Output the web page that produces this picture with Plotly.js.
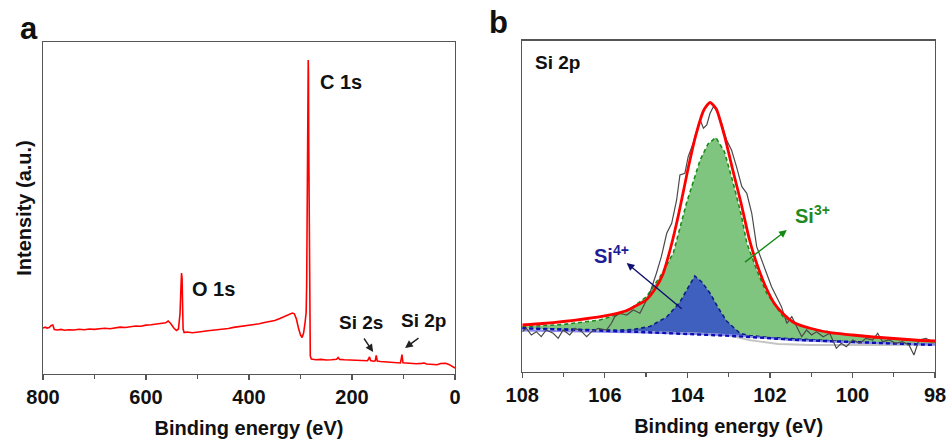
<!DOCTYPE html>
<html>
<head>
<meta charset="utf-8">
<script src="https://cdn.plot.ly/plotly-3.0.1.min.js"></script>
<style>
  html, body { margin: 0; padding: 0; background: #ffffff; }
  #chart { width: 947px; height: 441px; }
</style>
</head>
<body>
<div id="chart"></div>
<script>
// ---------------- Panel a: XPS survey ----------------
const surveyEnergy = [800, 796, 792, 788, 784, 781, 778, 772, 765, 758, 750, 740, 730, 720, 710, 700, 690, 680, 670, 660, 650, 640, 630, 620, 610, 600, 590, 580, 570, 562, 557, 552, 546, 541, 537, 534, 532, 531, 530, 529, 528, 526, 520, 510, 500, 490, 480, 470, 460, 450, 440, 430, 420, 410, 400, 390, 380, 370, 360, 350, 340, 330, 322, 316, 312, 308, 304, 300, 297, 294, 291, 289, 288, 287, 286, 285, 284.5, 284, 283, 282, 281, 279, 270, 260, 250, 240, 230, 227, 224, 215, 200, 190, 180, 170, 166, 164, 158, 155, 153, 151, 145, 135, 125, 115, 106, 104, 103, 101, 95, 85, 75, 65, 60, 55, 45, 35, 28, 23, 18, 12, 8, 4, 0];
const surveyIntensity = [46, 46.8, 45.9, 46.5, 48.5, 49, 44.5, 44, 44.6, 43.8, 44.3, 44, 44.8, 44.2, 45, 44.6, 45.3, 45.8, 45.2, 46.4, 46.9, 46.5, 47.6, 48, 47.7, 48.9, 49.3, 49.8, 50.6, 51.2, 53, 50.5, 46, 43.5, 45, 60, 88, 101, 96, 70, 45, 41.5, 42, 41.3, 42.2, 42.5, 43.2, 43.6, 44.3, 45.1, 45.5, 46.6, 47.2, 47.8, 48.4, 49.4, 50.2, 51.5, 52.7, 53.5, 55.5, 57.6, 59.2, 61, 60.2, 55, 46, 39, 36.5, 41, 52, 62, 90, 150, 250, 314, 300, 230, 120, 40, 18, 15, 14.2, 14.6, 14, 14.3, 14.8, 16.5, 14.6, 14.2, 14, 13.6, 13.8, 13.2, 17, 13.5, 12.8, 13.2, 18.5, 13, 12.5, 12.2, 11.8, 11.5, 11, 16, 19.5, 11.2, 10.8, 10.5, 10.2, 10.6, 11, 10, 9.6, 9.2, 10.5, 11, 10.8, 9.6, 8.5, 7.5, 6];

const surveyTicks = [800, 600, 400, 200, 0];
const surveyMinorTicks = [700, 500, 300, 100];

// ---------------- Panel b: Si 2p high resolution ----------------
const rawEnergy = [108.0, 107.9, 107.78, 107.66, 107.54, 107.42, 107.25, 107.13, 107.01, 106.85, 106.72, 106.56, 106.44, 106.32, 106.16, 105.96, 105.84, 105.76, 105.64, 105.47, 105.31, 105.15, 105.07, 104.91, 104.75, 104.63, 104.5, 104.38, 104.26, 104.18, 104.06, 103.98, 103.86, 103.77, 103.69, 103.61, 103.53, 103.45, 103.37, 103.29, 103.17, 103.05, 102.93, 102.81, 102.68, 102.56, 102.44, 102.32, 102.2, 102.08, 101.96, 101.84, 101.72, 101.59, 101.47, 101.35, 101.23, 101.11, 100.99, 100.87, 100.71, 100.55, 100.39, 100.27, 100.15, 99.99, 99.83, 99.67, 99.51, 99.39, 99.27, 99.11, 98.95, 98.79, 98.63, 98.51, 98.39, 98.22, 98.06];
const rawIntensity = [40.3, 43.7, 37, 40.3, 35.3, 42, 38.7, 33.7, 42, 37, 43.7, 40.3, 35.3, 40.3, 43.7, 42, 48.7, 55.3, 58.7, 57, 62, 58.7, 65.3, 78.7, 98.7, 115.3, 138.7, 148.7, 172, 197, 198.7, 215.3, 228.7, 242, 252, 243.7, 247, 258.7, 265.3, 262, 248.7, 232, 222, 205.3, 185.3, 178.7, 158.7, 125.3, 112, 98.7, 85.3, 75.3, 65.3, 48.7, 55.3, 45.3, 35.3, 42, 37, 40.3, 35.3, 38.7, 23.7, 28.7, 25.3, 32, 28.7, 33.7, 32, 38.7, 30.3, 32, 28.7, 30.3, 27, 17, 32, 33.7, 30.3];

const envelopeEnergy = [108.0, 107.5, 107.0, 106.5, 106.0, 105.5, 105.3, 105.0, 104.8, 104.6, 104.4, 104.2, 104.0, 103.8, 103.6, 103.45, 103.3, 103.1, 102.9, 102.7, 102.5, 102.3, 102.1, 101.9, 101.7, 101.4, 101.0, 100.5, 100.0, 99.5, 99.0, 98.5, 98.0];
const envelopeIntensity = [47, 48.5, 50.5, 53, 56, 61, 65, 72, 82, 97, 125, 160, 200, 236, 262, 269.5, 263, 236, 202, 169, 133, 106, 85, 69, 59, 49, 43.5, 39, 37, 35, 33.5, 32, 31];

const si3Energy = [108.0, 107.0, 106.12, 105.5, 105.31, 104.99, 104.66, 104.34, 104.02, 103.69, 103.5, 103.31, 103.1, 102.89, 102.7, 102.56, 102.3, 102.08, 101.68, 101.3, 100.87, 100.3, 99.65, 99.0, 98.0];
const si3Intensity = [45.3, 47.5, 52, 60, 65.3, 75.3, 95.3, 119, 169, 212, 228, 234.5, 220, 189, 158, 129, 100, 79, 55.3, 47, 42, 38.5, 35.3, 33, 30.3];

const si4Energy = [108.0, 106.5, 105.71, 105.3, 104.91, 104.5, 104.18, 104.0, 103.82, 103.65, 103.45, 103.25, 103.05, 102.72, 102.5, 102.0, 101.0, 100.0, 99.0, 98.0];
const si4Intensity = [43.7, 42.5, 41.8, 42.5, 45.5, 55, 70, 83, 96, 90, 78.7, 64, 51, 38.5, 36.5, 34.5, 32, 30, 28.5, 27.5];

const bgEnergy = [108.0, 105.3, 102.9, 101.3, 98.0];
const bgIntensity = [43.7, 40.3, 36, 32, 27];

const shirleyEnergy = [108.0, 105.0, 103.5, 103.0, 102.5, 102.0, 101.8, 101.0, 98.0];
const shirleyIntensity = [42, 40, 38, 36.5, 32, 29, 28, 27, 27];

const si4LineEnergy = [108.0, 105.0, 103.0, 101.5, 100.0, 98.0];
const si4LineIntensity = [41.5, 39.5, 37, 32, 29.5, 27.5];

const hrTicks = [108, 106, 104, 102, 100, 98];
const hrMinorTicks = [107, 105, 103, 101, 99];

// ---------------- styling ----------------
const FONT = 'Liberation Sans, Arial, Helvetica, sans-serif';
const frame = '#555555';

function xAxis(range, ticks, minor, domain, anchor) {
  return {
    domain: domain, anchor: anchor, range: range,
    tickmode: 'array', tickvals: ticks,
    ticks: 'outside', ticklen: 5, tickwidth: 1.2, tickcolor: frame,
    minor: { tickmode: 'array', tickvals: minor, ticks: 'outside', ticklen: 3.5, tickwidth: 1.2, tickcolor: frame },
    showline: true, linecolor: frame, linewidth: 1.3, mirror: true,
    showgrid: false, zeroline: false,
    tickfont: { family: FONT, size: 20, weight: 'bold', color: '#111' },
    title: { text: 'Binding energy (eV)', font: { family: FONT, size: 20, weight: 'bold', color: '#111' }, standoff: 13 }
  };
}
function yAxis(range, domain, anchor, title) {
  const ax = {
    domain: domain, anchor: anchor, range: range,
    showticklabels: false, ticks: '',
    showline: true, linecolor: frame, linewidth: 1.3, mirror: true,
    showgrid: false, zeroline: false
  };
  if (title) ax.title = { text: title, font: { family: FONT, size: 20, weight: 'bold', color: '#111' }, standoff: 4 };
  return ax;
}

const traces = [
  { x: surveyEnergy, y: surveyIntensity, xaxis: 'x', yaxis: 'y', type: 'scatter', mode: 'lines',
    line: { color: '#ff0000', width: 1.6 }, name: 'Survey' },

  // fill base for Si3+
  { x: bgEnergy, y: bgIntensity, xaxis: 'x2', yaxis: 'y2', mode: 'lines', line: { width: 0 }, hoverinfo: 'skip', name: 'base' },
  { x: si3Energy, y: si3Intensity, xaxis: 'x2', yaxis: 'y2', mode: 'lines', fill: 'tonexty',
    fillcolor: 'rgba(0,140,0,0.5)', line: { color: '#1a8a1a', width: 1.6, dash: '4px,3px' }, name: 'Si3+' },
  // fill base for Si4+
  { x: bgEnergy, y: bgIntensity, xaxis: 'x2', yaxis: 'y2', mode: 'lines', line: { width: 0 }, hoverinfo: 'skip', name: 'base' },
  { x: si4Energy, y: si4Intensity, xaxis: 'x2', yaxis: 'y2', mode: 'lines', fill: 'tonexty',
    fillcolor: '#4060bf', line: { color: '#102080', width: 1.6, dash: '4px,3px' }, name: 'Si4+' },

  { x: shirleyEnergy, y: shirleyIntensity, xaxis: 'x2', yaxis: 'y2', mode: 'lines',
    line: { color: '#c4c4c4', width: 1.8 }, name: 'Background' },
  { x: si4LineEnergy, y: si4LineIntensity, xaxis: 'x2', yaxis: 'y2', mode: 'lines',
    line: { color: '#8c8cf0', width: 1.8 }, name: 'bg2' },
  { x: bgEnergy, y: bgIntensity, xaxis: 'x2', yaxis: 'y2', mode: 'lines',
    line: { color: '#0a10b0', width: 2.4, dash: '4px,3px' }, name: 'Baseline' },
  { x: rawEnergy, y: rawIntensity, xaxis: 'x2', yaxis: 'y2', mode: 'lines',
    line: { color: '#4a4a4a', width: 1.2 }, name: 'Raw' },
  { x: envelopeEnergy, y: envelopeIntensity, xaxis: 'x2', yaxis: 'y2', mode: 'lines', line: { shape: 'spline', smoothing: 0.6, color: '#ff0000', width: 2.8 }, name: 'Fit' }
];

function label(xref, yref, x, y, text, size, color, anchor) {
  return { xref: xref, yref: yref, x: x, y: y, text: text, showarrow: false,
    xanchor: anchor || 'left', yanchor: 'middle',
    font: { family: FONT, size: size, weight: 'bold', color: color || '#111' } };
}
function arrow(xref, yref, hx, hy, tx, ty, color) {
  return { xref: xref, yref: yref, axref: xref, ayref: yref, x: hx, y: hy, ax: tx, ay: ty,
    text: '', showarrow: true, arrowhead: 2, arrowsize: 1.1, arrowwidth: 1.4, arrowcolor: color };
}

const layout = {
  width: 947, height: 441,
  margin: { l: 43, r: 12, t: 40, b: 67 },
  paper_bgcolor: '#ffffff', plot_bgcolor: '#ffffff',
  showlegend: false,
  xaxis: xAxis([800, 0], surveyTicks, surveyMinorTicks, [0, 0.4619], 'y'),
  yaxis: yAxis([0, 332], [0, 0.994], 'x', 'Intensity (a.u.)'),
  xaxis2: xAxis([108, 98], hrTicks, hrMinorTicks, [0.5373, 1], 'y2'),
  yaxis2: yAxis([0, 331.3], [0.006, 0.998], 'x2', null),
  annotations: [
    label('paper', 'paper', -0.003, 1.035, 'a', 31, '#111', 'right'),
    label('paper', 'paper', 0.524, 1.052, 'b', 31, '#111', 'right'),
    label('x', 'y', 266, 292, 'C 1s', 20),
    label('x', 'y', 514, 85, 'O 1s', 20),
    label('x', 'y', 229, 52, 'Si 2s', 19),
    label('x', 'y', 108, 54, 'Si 2p', 19),
    arrow('x', 'y', 159, 22, 178.6, 37, '#222'),
    arrow('x', 'y', 97, 26, 68, 37, '#222'),
    label('x2', 'y2', 107.74, 309, 'Si 2p', 19),
    label('x2', 'y2', 106.32, 117, 'Si<sup>4+</sup>', 20, '#1c1c96'),
    label('x2', 'y2', 101.44, 157, 'Si<sup>3+</sup>', 20, '#1f8a1f'),
    arrow('x2', 'y2', 105.47, 109, 104.10, 62, '#10106e'),
    arrow('x2', 'y2', 101.59, 142, 102.64, 108.7, '#138a13')
  ]
};

Plotly.newPlot('chart', traces, layout, { displayModeBar: false, staticPlot: true });
</script>
</body>
</html>
